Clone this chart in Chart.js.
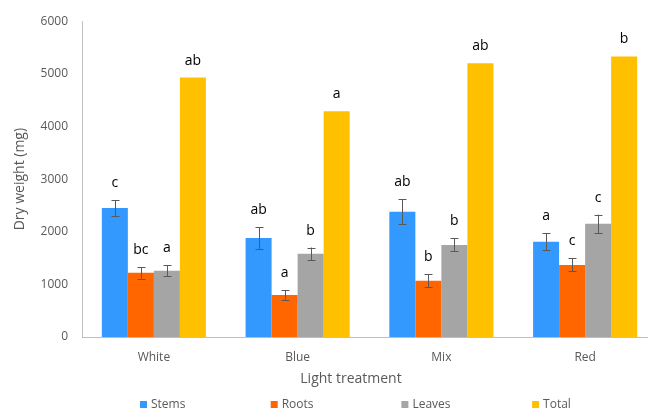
<!DOCTYPE html>
<html>
<head>
<meta charset="utf-8">
<script src="https://cdn.jsdelivr.net/npm/chart.js@4"></script>
<style>
  html, body { margin: 0; padding: 0; background: #fff; overflow: hidden; }
  #wrap { width: 648px; height: 412px; overflow: hidden; position: relative; }
  #box { width: 670px; height: 412px; position: absolute; left: 0; top: 0; }
</style>
</head>
<body>
<div id="wrap"><div id="box"><canvas id="c"></canvas></div></div>
<script>
// Dry weight per organ under each light treatment (mean, SE, significance letters)
const treatments = ['White', 'Blue', 'Mix', 'Red'];
const seriesNames = ['Stems', 'Roots', 'Leaves', 'Total'];

const stems  = [2450, 1880, 2380, 1810];
const roots  = [1220,  800, 1070, 1370];
const leaves = [1260, 1580, 1750, 2150];
const total  = [4930, 4290, 5200, 5330];

const stemsErr  = [150, 210, 235, 165];
const rootsErr  = [110,  90, 125, 125];
const leavesErr = [100, 120, 125, 175];
const totalErr  = [0, 0, 0, 0];

const stemsLetters  = ['c', 'ab', 'ab', 'a'];
const rootsLetters  = ['bc', 'a', 'b', 'c'];
const leavesLetters = ['a', 'b', 'b', 'c'];
const totalLetters  = ['ab', 'a', 'ab', 'b'];

const yTicks = [0, 1000, 2000, 3000, 4000, 5000, 6000];

const colors = ['#3399FF', '#FF6600', '#A5A5A5', '#FFC000'];
const values = [stems, roots, leaves, total];
const errors = [stemsErr, rootsErr, leavesErr, totalErr];
const letters = [stemsLetters, rootsLetters, leavesLetters, totalLetters];

const FONT = '"Open Sans", "Noto Sans", sans-serif';
const GREY_TEXT = '#595959';

// Error bars, letters above each bar, x-axis title and the legend row
const annotate = {
  id: 'annotate',
  afterDatasetsDraw(chart) {
    const ctx = chart.ctx;
    const y = chart.scales.y;
    ctx.save();
    chart.data.datasets.forEach((ds, di) => {
      const meta = chart.getDatasetMeta(di);
      meta.data.forEach((bar, i) => {
        const v = values[di][i], e = errors[di][i];
        if (e > 0) {
          const yt = y.getPixelForValue(v + e);
          const yb = y.getPixelForValue(v - e);
          const x = Math.round(bar.x) + 0.5;
          ctx.strokeStyle = '#595959';
          ctx.lineWidth = 1;
          ctx.beginPath();
          ctx.moveTo(x, yt); ctx.lineTo(x, yb);
          ctx.moveTo(x - 4, Math.round(yt) + 0.5); ctx.lineTo(x + 4, Math.round(yt) + 0.5);
          ctx.moveTo(x - 4, Math.round(yb) + 0.5); ctx.lineTo(x + 4, Math.round(yb) + 0.5);
          ctx.stroke();
        }
        ctx.fillStyle = '#000';
        ctx.font = '14px ' + FONT;
        ctx.textAlign = 'center';
        ctx.textBaseline = 'middle';
        ctx.fillText(letters[di][i], bar.x, y.getPixelForValue(v + e) - 17);
      });
    });

    // x-axis title
    ctx.fillStyle = GREY_TEXT;
    ctx.font = '14px ' + FONT;
    ctx.textAlign = 'center';
    ctx.textBaseline = 'middle';
    ctx.fillText('Light treatment', 351, 379);

    // legend
    ctx.font = '12px ' + FONT;
    ctx.textAlign = 'left';
    seriesNames.forEach((name, i) => {
      const lx = 140 + i * 130.7;
      ctx.fillStyle = colors[i];
      ctx.fillRect(lx, 401, 7, 7);
      ctx.fillStyle = GREY_TEXT;
      ctx.fillText(name, lx + 11, 405);
    });
    ctx.restore();
  }
};

new Chart(document.getElementById('c'), {
  type: 'bar',
  data: {
    labels: treatments,
    datasets: seriesNames.map((name, i) => ({
      label: name,
      data: values[i],
      backgroundColor: colors[i],
      borderWidth: 0
    }))
  },
  options: {
    responsive: true,
    maintainAspectRatio: false,
    animation: false,
    devicePixelRatio: 1,
    layout: { padding: { top: 20, right: 13, bottom: 0, left: 0 } },
    datasets: { bar: { categoryPercentage: 0.724, barPercentage: 1.0 } },
    plugins: { legend: { display: false }, tooltip: { enabled: false } },
    scales: {
      x: {
        grid: { display: false, drawTicks: false },
        border: { display: true, color: '#BFBFBF', width: 1 },
        ticks: { color: GREY_TEXT, font: { family: FONT, size: 12 }, padding: 13 },
        afterFit(s) { s.height = 75; }
      },
      y: {
        min: 0, max: 6000,
        afterBuildTicks(s) { s.ticks = yTicks.map(v => ({ value: v })); },
        grid: { display: false, drawTicks: false },
        border: { display: true, color: '#BFBFBF', width: 1 },
        ticks: { color: GREY_TEXT, font: { family: FONT, size: 12 }, padding: 14,
                 callback: v => String(v) },
        title: { display: true, text: 'Dry weight (mg)', color: GREY_TEXT,
                 font: { family: FONT, size: 14 }, padding: { top: 12, bottom: 0 } },
        afterFit(s) { s.width = 82; }
      }
    }
  },
  plugins: [annotate]
});
</script>
</body>
</html>
